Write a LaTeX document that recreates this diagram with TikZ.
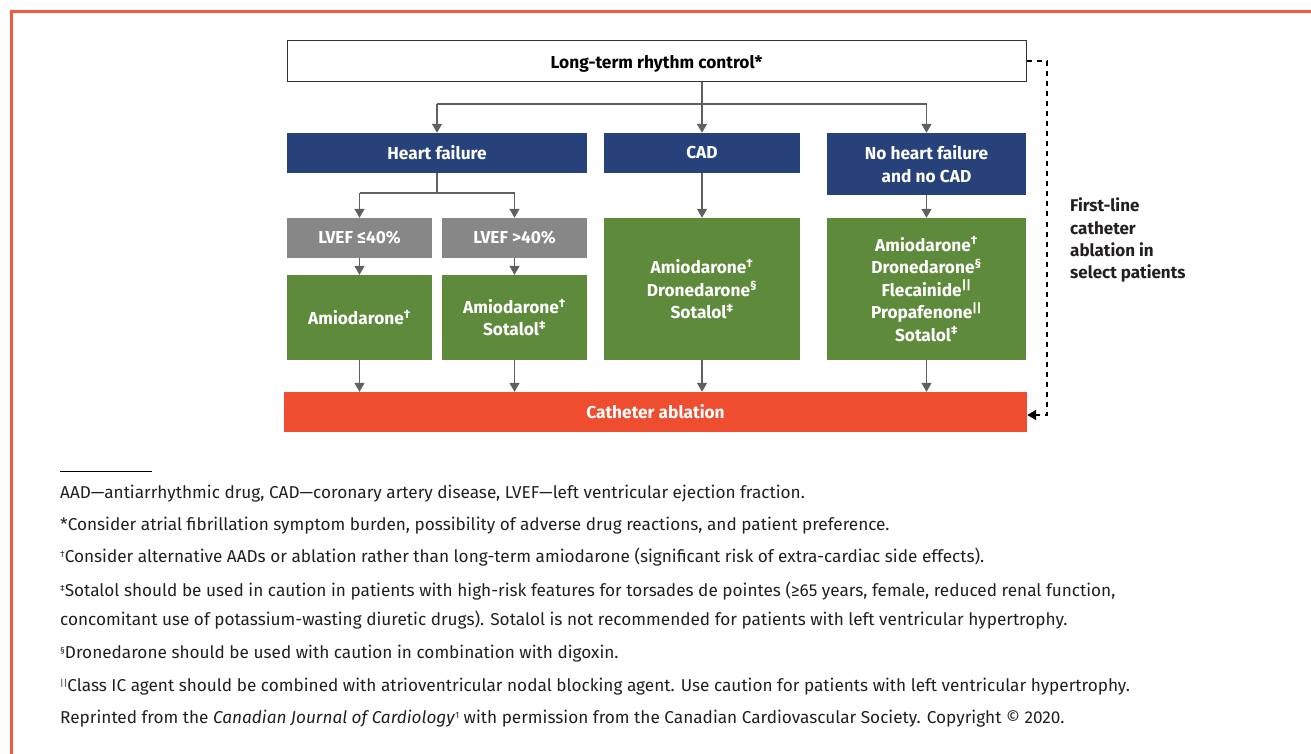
\documentclass[tikz,border=0pt]{standalone}
\usepackage{fontspec}
\setmainfont{Fira Sans}
\usetikzlibrary{arrows.meta}
\definecolor{navy}{HTML}{27427A}
\definecolor{lgray}{HTML}{878787}
\definecolor{grn}{HTML}{5E8A3B}
\definecolor{ablred}{HTML}{EF4D2F}
\definecolor{arr}{HTML}{606060}
\definecolor{framered}{HTML}{F15A3D}
\definecolor{txt}{HTML}{231F20}
\newcommand{\fsup}[1]{\raisebox{0.55ex}{\fontsize{9}{9}\selectfont #1}}
\begin{document}
\begin{tikzpicture}[x=1pt,y=-1pt,
  box/.style={draw=none, inner sep=0pt, align=center, text=white,
    font=\fontsize{17.3}{22.5}\selectfont\bfseries},
  conn/.style={draw=arr, line width=1.3pt, -{Triangle[width=10pt,length=9pt]}},
  plain/.style={draw=arr, line width=1.3pt},
  fn/.style={anchor=base west, inner sep=0pt, text=txt, font=\fontsize{17.2}{20}\selectfont}]
\useasboundingbox (0,0) rectangle (1311,754);
\clip (0,0) rectangle (1311,754);
\draw[framered, line width=3pt] (11.5,11.5) rectangle (1330,770);

\node[box, fill=white, draw=black!80, line width=1pt, text=black, minimum width=739pt, minimum height=41pt] (top) at (656.5,61.5) {\raisebox{-7pt}[0pt][0pt]{Long-term rhythm control*}};
\node[box, fill=navy, minimum width=300pt, minimum height=40pt] (hf) at (437,153) {Heart failure};
\node[box, fill=navy, minimum width=196pt, minimum height=40pt] (cad) at (702,153) {CAD};
\node[box, fill=navy, minimum width=199pt, minimum height=62pt] (nohf) at (926.5,164) {No heart failure\\and no CAD};
\node[box, fill=lgray, minimum width=145pt, minimum height=40pt] (lv1) at (359.5,238) {LVEF ≤40\%};
\node[box, fill=lgray, minimum width=145pt, minimum height=40pt] (lv2) at (514.5,238) {LVEF >40\%};
\node[box, fill=grn, minimum width=145pt, minimum height=85pt] (am1) at (359.5,317.5) {Amiodarone\textsuperscript{†}};
\node[box, fill=grn, minimum width=145pt, minimum height=85pt] (am2) at (514.5,317.5) {Amiodarone\textsuperscript{†}\\Sotalol\textsuperscript{‡}};
\node[box, fill=grn, minimum width=196pt, minimum height=142pt] (cadg) at (702,289) {Amiodarone\textsuperscript{†}\\Dronedarone\textsuperscript{§}\\Sotalol\textsuperscript{‡}};
\node[box, fill=grn, minimum width=199pt, minimum height=142pt] (nohfg) at (926.5,289) {Amiodarone\textsuperscript{†}\\Dronedarone\textsuperscript{§}\\Flecainide\textsuperscript{||}\\Propafenone\textsuperscript{||}\\Sotalol\textsuperscript{‡}};
\node[box, fill=ablred, minimum width=743pt, minimum height=40pt] (cath) at (655.5,412) {Catheter ablation};

% connectors
\coordinate (j1) at (702,104);
\coordinate (j2) at (437,193);
\draw[conn] (top.south -| cad.north) -- (cad.north);
\draw[plain] (j1 -| hf.north) -- (j1 -| nohf.north);
\draw[conn] (j1 -| hf.north) -- (hf.north);
\draw[conn] (j1 -| nohf.north) -- (nohf.north);
\draw[plain] (hf.south) -- (j2);
\draw[plain] (j2 -| lv1.north) -- (j2 -| lv2.north);
\draw[conn] (j2 -| lv1.north) -- (lv1.north);
\draw[conn] (j2 -| lv2.north) -- (lv2.north);
\draw[conn] (lv1.south) -- (am1.north);
\draw[conn] (lv2.south) -- (am2.north);
\draw[conn] (cad.south) -- (cadg.north);
\draw[conn] (nohf.south) -- (nohfg.north);
\draw[conn] (am1.south) -- (cath.north -| am1.south);
\draw[conn] (am2.south) -- (cath.north -| am2.south);
\draw[conn] (cadg.south) -- (cath.north -| cadg.south);
\draw[conn] (nohfg.south) -- (cath.north -| nohfg.south);
\draw[black, line width=2pt, dash pattern=on 5pt off 5pt, -{Triangle[width=10pt,length=9pt]}]
  (top.east) -- ++(20,0) |- ([yshift=-3pt]cath.east);

\node[anchor=north west, inner sep=0pt, align=left, text=txt, font=\fontsize{17}{22.3}\selectfont\bfseries] (lbl) at (1070,198) {First-line\\catheter\\ablation in\\select patients};

% footnotes
\coordinate (r1) at (60,471);
\coordinate (r2) at (152,471);
\draw[black, line width=0.8pt] (r1) -- (r2);
\node[fn] (f1) at (60,498) {AAD—antiarrhythmic drug, CAD—coronary artery disease, LVEF—left ventricular ejection fraction.};
\node[fn] (f2) at (60,530) {*Consider atrial fibrillation symptom burden, possibility of adverse drug reactions, and patient preference.};
\node[fn] (f3) at (60,562) {\fsup{†}Consider alternative AADs or ablation rather than long-term amiodarone (significant risk of extra-cardiac side effects).};
\node[fn] (f4) at (60,596) {\fsup{‡}Sotalol should be used in caution in patients with high-risk features for torsades de pointes (≥65 years, female, reduced renal function,};
\node[fn] (f5) at (60,625) {concomitant use of potassium-wasting diuretic drugs). Sotalol is not recommended for patients with left ventricular hypertrophy.};
\node[fn] (f6) at (60,658) {\fsup{§}Dronedarone should be used with caution in combination with digoxin.};
\node[fn] (f7) at (60,691) {\fsup{||}Class IC agent should be combined with atrioventricular nodal blocking agent. Use caution for patients with left ventricular hypertrophy.};
\node[fn] (f8) at (60,723) {Reprinted from the \textit{Canadian Journal of Cardiology}\fsup{1} with permission from the Canadian Cardiovascular Society. Copyright © 2020.};
\end{tikzpicture}
\end{document}
